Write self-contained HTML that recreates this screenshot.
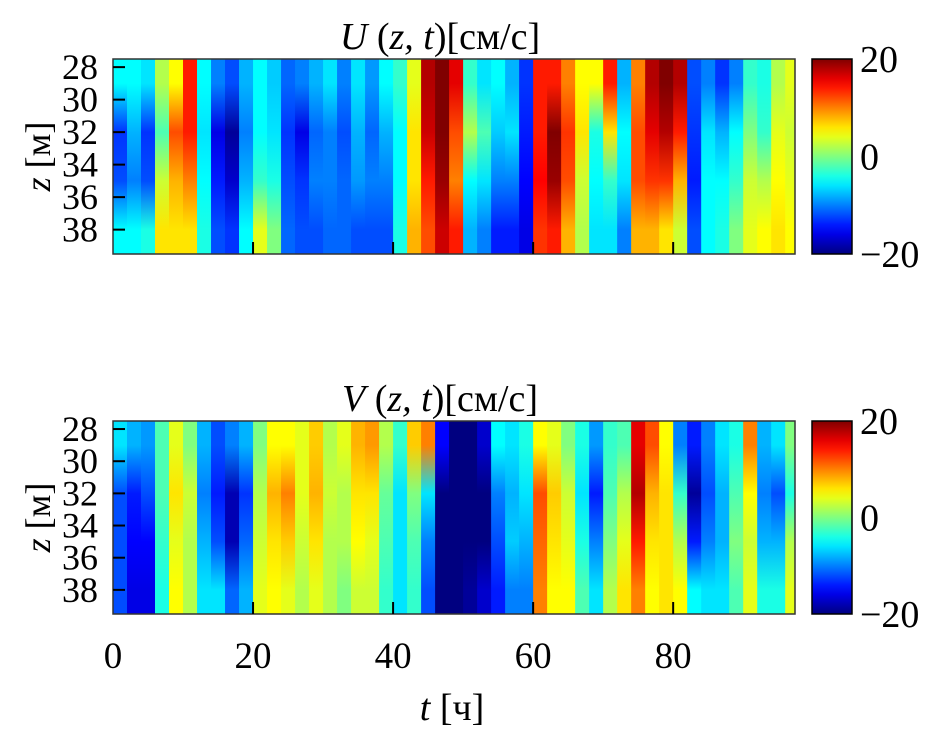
<!DOCTYPE html>
<html><head><meta charset="utf-8"><style>
body{margin:0;background:#fff;}
svg{display:block;font-family:"Liberation Serif",serif;}
</style></head><body>
<svg id="fig" width="937" height="729" viewBox="0 0 937 729" xmlns="http://www.w3.org/2000/svg"></svg>
<script>
const timeStarts = Array.from({length:49},(_,i)=>i*2);
const depthTicks = [28,30,32,34,36,38];
const timeTicks = [0,20,40,60,80];
const cbTicks = [20,0,-20];
const uTop=[-5,-5,-6,2,5,14,-5,-10,-12,-8,-5,-7,-11,-10,-8,-6,-10,-6,-9,-5,-3,4,18,20,16,-3,-6,-5,-8,-13,14,14,10,5,5,14,-8,10,18,20,18,-12,-10,-13,-10,-3,-4,2,4];
const uUpper=[-13,-8,-13,-2,12,14,-6,-16,-19,-10,-5,-6,-13,-16,-11,-10,-12,-8,-11,-8,-5,6,17,20,12,2,-2,-7,-6,-14,14,20,13,6,-4,6,-5,12,16,18,14,-13,-6,-8,-5,0,-3,4,3];
const uLower=[-12,-10,-12,3,8,10,-5,-14,-17,-8,-3,-4,-12,-13,-10,-10,-11,-9,-10,-10,-5,6,14,19,10,-5,-6,-10,-10,-15,15,19,12,3,-5,-3,-6,12,13,13,8,-14,-5,-5,-3,3,2,5,4];
const uBottom=[-5,-5,-4,6,6,6,-4,-12,-13,-5,4,0,-11,-12,-12,-11,-11,-12,-12,-12,-4,8,12,17,14,-8,-10,-14,-14,-16,13,14,8,2,-6,-6,-10,8,8,6,3,-12,-5,-4,0,4,5,6,5];
const vTop=[-6,-8,-9,-2,4,0,-8,-12,-10,-8,0,5,5,4,7,2,4,8,9,2,-3,7,10,-15,-20,-20,-17,-5,-6,-4,5,4,0,-4,-9,-3,-2,16,12,5,-10,-14,-10,-6,-4,10,-8,-6,0];
const vUpper=[-12,-14,-12,-2,6,3,-10,-14,-18,-13,2,8,10,4,8,3,2,6,6,-1,-6,0,-6,-20,-20,-20,-20,-10,-8,-6,12,7,3,-6,-14,-2,2,18,8,6,-3,-19,-12,-8,-2,5,-10,-12,-4];
const vLower=[-12,-15,-15,-3,4,2,-8,-12,-18,-11,3,6,7,3,6,2,2,5,4,-2,-6,-2,-10,-20,-20,-20,-20,-12,-7,-8,11,6,4,-4,-10,0,4,14,6,6,2,-14,-10,-8,0,3,-8,-8,2];
const vBottom=[-12,-16,-16,-4,5,2,-6,-6,-11,-8,4,5,4,2,4,2,0,3,3,-3,-6,-3,-12,-20,-20,-19,-17,-14,-10,-10,10,5,5,-2,-6,2,6,10,5,6,5,-5,-6,-6,-2,4,-4,-4,4];

const NS="http://www.w3.org/2000/svg";
const svg=document.getElementById('fig');
const X0=113,X1=795,TMAX=97.4;
const xs=t=>X0+(t/TMAX)*(X1-X0);
const panels=[{top:59,bot:254,title:'U',rows:[uTop,uUpper,uLower,uBottom],name:'u-panel'},
              {top:421,bot:614,title:'V',rows:[vTop,vUpper,vLower,vBottom],name:'v-panel'}];
const ZMIN=27.5,ZMAX=39.5;
function jet(v){let f=(v+20)/40;f=Math.max(0,Math.min(1,f));
 const c=x=>Math.round(255*Math.max(0,Math.min(1,x)));
 return `rgb(${c(1.5-Math.abs(4*f-3))},${c(1.5-Math.abs(4*f-2))},${c(1.5-Math.abs(4*f-1))})`;}
function mk(tag,attrs,parent){const e=document.createElementNS(NS,tag);for(const k in attrs)e.setAttribute(k,attrs[k]);(parent||svg).appendChild(e);return e;}
const defs=mk('defs',{});
panels.forEach((p,pi)=>{
 const ys=z=>p.top+(z-ZMIN)/(ZMAX-ZMIN)*(p.bot-p.top);
 const g=mk('g',{});
 
 
 const cp=mk('clipPath',{id:'clip'+pi},defs);
 mk('rect',{x:X0,y:p.top,width:X1-X0,height:p.bot-p.top},cp);
 const hg=mk('g',{'clip-path':`url(#clip${pi})`},g);
 
 
 timeStarts.forEach((t,i)=>{
  const gid=`g${pi}_${i}`;
  const lg=mk('linearGradient',{id:gid,x1:0,y1:0,x2:0,y2:1},defs);
  p.rows.forEach((r,j)=>mk('stop',{offset:(12.5+25*j)+'%','stop-color':jet(r[i])},lg));
  const rc=mk('rect',{x:xs(t),y:p.top,width:xs(t+2)-xs(t)+0.6,height:p.bot-p.top,fill:`url(#${gid})`},hg);
  
  
 });
 mk('rect',{x:X0,y:p.top,width:X1-X0,height:p.bot-p.top,fill:'none',stroke:'#333','stroke-width':1.5},g);
 depthTicks.forEach(z=>{
  mk('line',{x1:X0,x2:X0+12,y1:ys(z),y2:ys(z),stroke:'#000','stroke-width':2},g);
  const tx=mk('text',{x:98,y:ys(z)+12,'text-anchor':'end','font-size':36},g);tx.textContent=z;
  
  
 });
 timeTicks.forEach(t=>{ if(t>0) mk('line',{x1:xs(t),x2:xs(t),y1:p.bot,y2:p.bot-12,stroke:'#000','stroke-width':2},g);});
 const yl=mk('text',{transform:`translate(50,${(p.top+p.bot)/2}) rotate(-90)`,'text-anchor':'middle','font-size':36},g);
 yl.innerHTML='<tspan font-style="italic">z</tspan> [м]';
 
 
 const tt=mk('text',{x:440,y:p.top-10,'text-anchor':'middle','font-size':38},g);
 tt.innerHTML=`<tspan font-style="italic">${p.title}</tspan> (<tspan font-style="italic">z, t</tspan>)[см/с]`;
 
 
 const cg=mk('linearGradient',{id:'cb'+pi,x1:0,y1:0,x2:0,y2:1},defs);
 for(let k=0;k<=20;k++){mk('stop',{offset:(k*5)+'%','stop-color':jet(20-k*2)},cg);}
 const cb=mk('rect',{x:812,y:p.top,width:40,height:p.bot-p.top,fill:`url(#cb${pi})`,stroke:'#000','stroke-width':1.5},g);
 
 
 cbTicks.forEach(v=>{
  const y=p.top+(20-v)/40*(p.bot-p.top);
  const tx=mk('text',{x:860,y:y+13,'font-size':38},g);tx.textContent=v<0?'−'+Math.abs(v):v;
  
  
 });
});
timeTicks.forEach(t=>{
 const tx=mk('text',{x:xs(t),y:668,'text-anchor':'middle','font-size':37});tx.textContent=t;
 
 
});
const xl=mk('text',{x:452,y:720,'text-anchor':'middle','font-size':38});
xl.innerHTML='<tspan font-style="italic">t</tspan> [ч]';


</script>
</body></html>
